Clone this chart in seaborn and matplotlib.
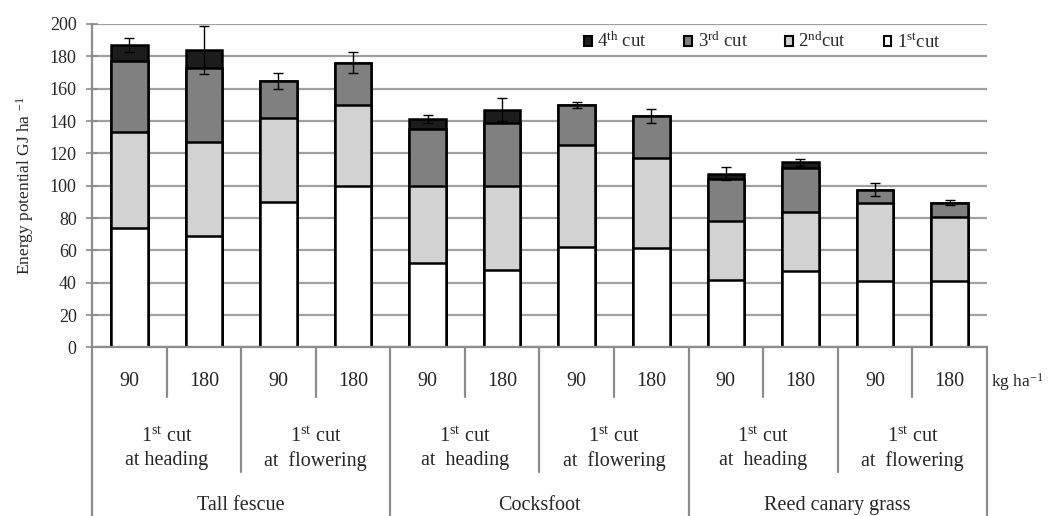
import numpy as np
import pandas as pd
import seaborn as sns
import matplotlib
matplotlib.use('Agg')
import matplotlib.pyplot as plt
from matplotlib.patches import Patch
from matplotlib.transforms import blended_transform_factory

# bars: Tall fescue / Cocksfoot / Reed canary grass, two 1st-cut timings, two N doses
species = ["Tall fescue", "Cocksfoot", "Reed canary grass"]
timing_top = [r"1$^{\rm st}$ cut"] * 6
timing_bottom = ["at heading", "at  flowering", "at  heading", "at  flowering",
                 "at  heading", "at  flowering"]
doses = ["90", "180"] * 6
bar_ids = [f"b{i}" for i in range(12)]

cut1 = [74, 69, 90, 100, 52, 48, 62, 61.5, 41.5, 47.5, 41, 41]
cut2 = [59, 58, 52, 50, 48, 52, 63, 55.5, 36.5, 36, 48.5, 39.5]
cut3 = [44, 46, 23, 26, 35, 38.5, 25, 26, 26, 27.5, 8, 9]
cut4 = [10, 11, 0, 0, 6, 8.5, 0, 0, 3.5, 3.5, 0, 0]
err = [4.5, 15, 5, 6.5, 2.5, 7, 2, 4.5, 4, 2, 4, 1.5]

cut_labels = [r"4$^{\rm th}$ cut", r"3$^{\rm rd}$ cut", r"2$^{\rm nd}$cut", r"1$^{\rm st}$cut"]
cut_colors = ["#1c1c1c", "#808080", "#d2d2d2", "#ffffff"]

sns.set_theme(style="white")
plt.rcParams['font.family'] = ['Liberation Serif', 'DejaVu Serif']
plt.rcParams['mathtext.fontset'] = 'custom'
plt.rcParams['mathtext.rm'] = 'Liberation Serif'
plt.rcParams['mathtext.it'] = 'Liberation Serif:italic'

df = pd.DataFrame({"bar": bar_ids, "c1": cut1, "c2": cut2, "c3": cut3, "c4": cut4})
df["top1"] = df["c1"]
df["top2"] = df["top1"] + df["c2"]
df["top3"] = df["top2"] + df["c3"]
df["top4"] = df["top3"] + df["c4"]

fig, ax = plt.subplots(figsize=(10.51, 5.16), dpi=100)
fig.subplots_adjust(left=0.0875, right=0.939, bottom=0.3266, top=0.9535)

GRID = "#a0a0a0"
LINE = "#8c8c8c"

# draw cumulative stacks from the tallest down
for col, color in zip(["top4", "top3", "top2", "top1"], cut_colors):
    sns.barplot(data=df, x="bar", y=col, color=color, saturation=1,
                edgecolor="black", linewidth=1.8, width=0.49,
                errorbar=None, ax=ax)

ax.errorbar(x=np.arange(len(bar_ids)), y=df["top4"], yerr=err, fmt="none",
            ecolor="black", elinewidth=1.0, capsize=3.6, capthick=1.0, zorder=5)

ax.set_ylim(0, 200)
ax.set_yticks(range(0, 201, 20))
ax.set_xlim(-0.5, 11.5)
ax.set_xticks([])
ax.set_xlabel("")
ax.set_axisbelow(True)
ax.yaxis.grid(True, color=GRID, linewidth=1.6)
ax.tick_params(axis="y", direction="inout", length=8, width=1.2, color=LINE,
               labelsize=13, pad=7, left=True)
for s in ["top", "right"]:
    ax.spines[s].set_visible(False)
for s in ["left", "bottom"]:
    ax.spines[s].set_color(LINE)
    ax.spines[s].set_linewidth(1.6)

ax.set_ylabel(r"Energy potential GJ ha $^{-1}$", fontsize=12.5, labelpad=10)

handles = [Patch(facecolor=c, edgecolor="black", linewidth=1.5) for c in cut_colors]
ax.legend(handles, cut_labels, ncol=4, loc="center", bbox_to_anchor=(0.749, 0.945),
          frameon=False, fontsize=13.5, handlelength=0.4, handleheight=0.4,
          handletextpad=0.3, columnspacing=2.0)

# category table under the axis
tr = blended_transform_factory(ax.transData, ax.transAxes)
bottom = -0.6
for x in [-0.5, 3.5, 7.5, 11.5]:
    ax.plot([x, x], [0, bottom], transform=tr, color=LINE, lw=1.6, clip_on=False)
for x in [1.5, 5.5, 9.5]:
    ax.plot([x, x], [0, -0.385], transform=tr, color=LINE, lw=1.6, clip_on=False)
for x in [0.5, 2.5, 4.5, 6.5, 8.5, 10.5]:
    ax.plot([x, x], [0, -0.153], transform=tr, color=LINE, lw=1.6, clip_on=False)

for i, d in enumerate(doses):
    ax.text(i, -0.106, d, transform=tr, ha="center", va="center", fontsize=14.5)
for j in range(6):
    xc = 2 * j + 0.5
    ax.text(xc, -0.276, timing_top[j], transform=tr, ha="center", va="center", fontsize=14.5)
    ax.text(xc, -0.35, timing_bottom[j], transform=tr, ha="center", va="center", fontsize=14.5)
for k, name in enumerate(species):
    ax.text(4 * k + 1.5, -0.487, name, transform=tr, ha="center", va="center", fontsize=14.5)
ax.text(11.56, -0.106, r"kg ha$^{-1}$", transform=tr, ha="left", va="center", fontsize=12.5)

fig.savefig("out.png", dpi=100)
